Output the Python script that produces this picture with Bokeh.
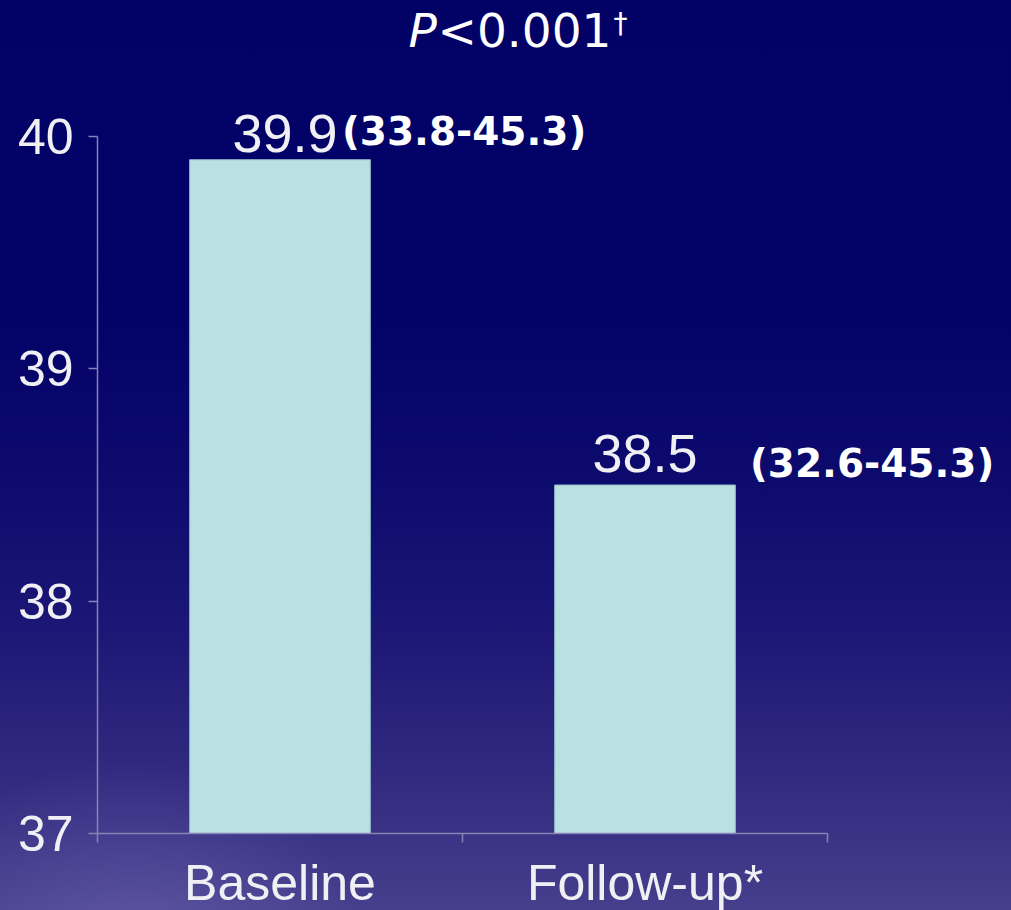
from bokeh.plotting import figure
from bokeh.models import Range1d, FixedTicker, Label, GlobalInlineStyleSheet
from bokeh.embed import file_html
from bokeh.resources import INLINE

# ---- data -------------------------------------------------------------
categories = ["Baseline", "Follow-up*"]
medians = [39.9, 38.5]
median_labels = ["39.9", "38.5"]
ci_labels = ["(33.8-45.3)", "(32.6-45.3)"]
y_ticks = [37, 38, 39, 40]
y_start, y_end = 37, 40
p_symbol = "P"
p_value = "<0.001"
p_mark = "\u2020"

# ---- layout (pixels) -----------------------------------------------------
W, H = 1011, 910
AXIS_X_PX = 97          # where x = 0 sits
AXIS_TOP_PX = 136       # where y = y_end sits
AXIS_BOTTOM_PX = 833    # where y = y_start sits
PX_PER_X = 365.0
PX_PER_Y = (AXIS_BOTTOM_PX - AXIS_TOP_PX) / (y_end - y_start)

def data_x(px):
    return (px - AXIS_X_PX) / PX_PER_X

def data_y(py):
    return y_end + (AXIS_TOP_PX - py) / PX_PER_Y

positions = [i + 0.5 for i in range(len(categories))]
boundaries = list(range(len(categories) + 1))

AXIS_COLOR = "#8684b2"
TEXT_COLOR = "#f0f0f4"

p = figure(
    width=W, height=H,
    x_range=Range1d(data_x(0), data_x(W)),
    y_range=Range1d(data_y(H), data_y(0)),
    output_backend="svg", toolbar_location=None, tools="",
    min_border=0,
)
p.title.visible = False
p.border_fill_color = None
p.background_fill_color = None
p.outline_line_color = None
p.xgrid.visible = False
p.ygrid.visible = False

css = (
    "html{height:100%;overflow:hidden;"
    "background:"
    "radial-gradient(ellipse 240px 200px at 130px 960px, rgba(150,140,215,0.30), rgba(150,140,215,0) 100%),"
    "linear-gradient(to bottom,#010166 0%,#030268 35%,#0c0a6d 52%,#1d1876 70%,#322b80 86%,#463f8c 100%) no-repeat;}"
    "body{overflow:hidden;background:transparent;}"
)
p.stylesheets = [GlobalInlineStyleSheet(css=css)]

p.vbar(x=positions, top=medians, bottom=y_start, width=0.495,
       fill_color="#b9e0e3", line_color="#93bcc8", line_width=1)

# y axis
ya = p.yaxis[0]
ya.fixed_location = 0
ya.bounds = (y_start, y_end)
ya.ticker = FixedTicker(ticks=y_ticks)
ya.axis_line_color = AXIS_COLOR
ya.axis_line_width = 1.5
ya.major_tick_line_color = AXIS_COLOR
ya.major_tick_line_width = 1.5
ya.major_tick_out = 9
ya.major_tick_in = 0
ya.minor_tick_line_color = None
ya.major_label_standoff = 15
ya.major_label_text_font = "Liberation Sans"
ya.major_label_text_font_size = "50px"
ya.major_label_text_color = TEXT_COLOR

# x axis
xa = p.xaxis[0]
xa.fixed_location = y_start
xa.bounds = (0, len(categories))
xa.ticker = FixedTicker(ticks=positions, minor_ticks=boundaries)
xa.major_label_overrides = {pos: cat for pos, cat in zip(positions, categories)}
xa.axis_line_color = AXIS_COLOR
xa.axis_line_width = 1.5
xa.major_tick_line_color = None
xa.major_tick_out = 9
xa.major_tick_in = 0
xa.minor_tick_line_color = AXIS_COLOR
xa.minor_tick_line_width = 1.5
xa.minor_tick_out = 9
xa.minor_tick_in = 0
xa.major_label_standoff = 12
xa.major_label_text_font = "Liberation Sans"
xa.major_label_text_font_size = "50px"
xa.major_label_text_color = TEXT_COLOR

# value labels above bars
value_offsets = [(5, 26), (0, 32)]
for pos, val, txt, (dx, dy) in zip(positions, medians, median_labels, value_offsets):
    p.add_layout(Label(x=pos, y=val, text=txt, x_offset=dx, y_offset=dy,
                       text_align="center", text_baseline="alphabetic",
                       text_font="Liberation Sans", text_font_size="54px",
                       text_color=TEXT_COLOR))

# confidence-interval labels
ci_offsets = [(62, 28), (105, 22)]
for pos, val, txt, (dx, dy) in zip(positions, medians, ci_labels, ci_offsets):
    p.add_layout(Label(x=pos, y=val, text=txt, x_offset=dx, y_offset=dy,
                       text_align="left", text_baseline="alphabetic",
                       text_font="DejaVu Sans", text_font_style="bold",
                       text_font_size="39px", text_color="#ffffff"))

# heading  "P<0.001†"
p.add_layout(Label(x=data_x(408), y=data_y(29.5), text=p_symbol, text_align="left",
                   text_baseline="alphabetic", text_font="DejaVu Sans",
                   text_font_style="italic", text_font_size="47px",
                   text_color="#ffffff"))
p.add_layout(Label(x=data_x(437), y=data_y(29.5), text=p_value, text_align="left",
                   text_baseline="alphabetic", text_font="DejaVu Sans",
                   text_font_size="47px", text_color="#ffffff"))
p.add_layout(Label(x=data_x(613), y=data_y(22.5), text=p_mark, text_align="left",
                   text_baseline="alphabetic", text_font="DejaVu Sans",
                   text_font_size="28px", text_color="#ffffff"))

open("out.html", "w").write(file_html(p, INLINE))
